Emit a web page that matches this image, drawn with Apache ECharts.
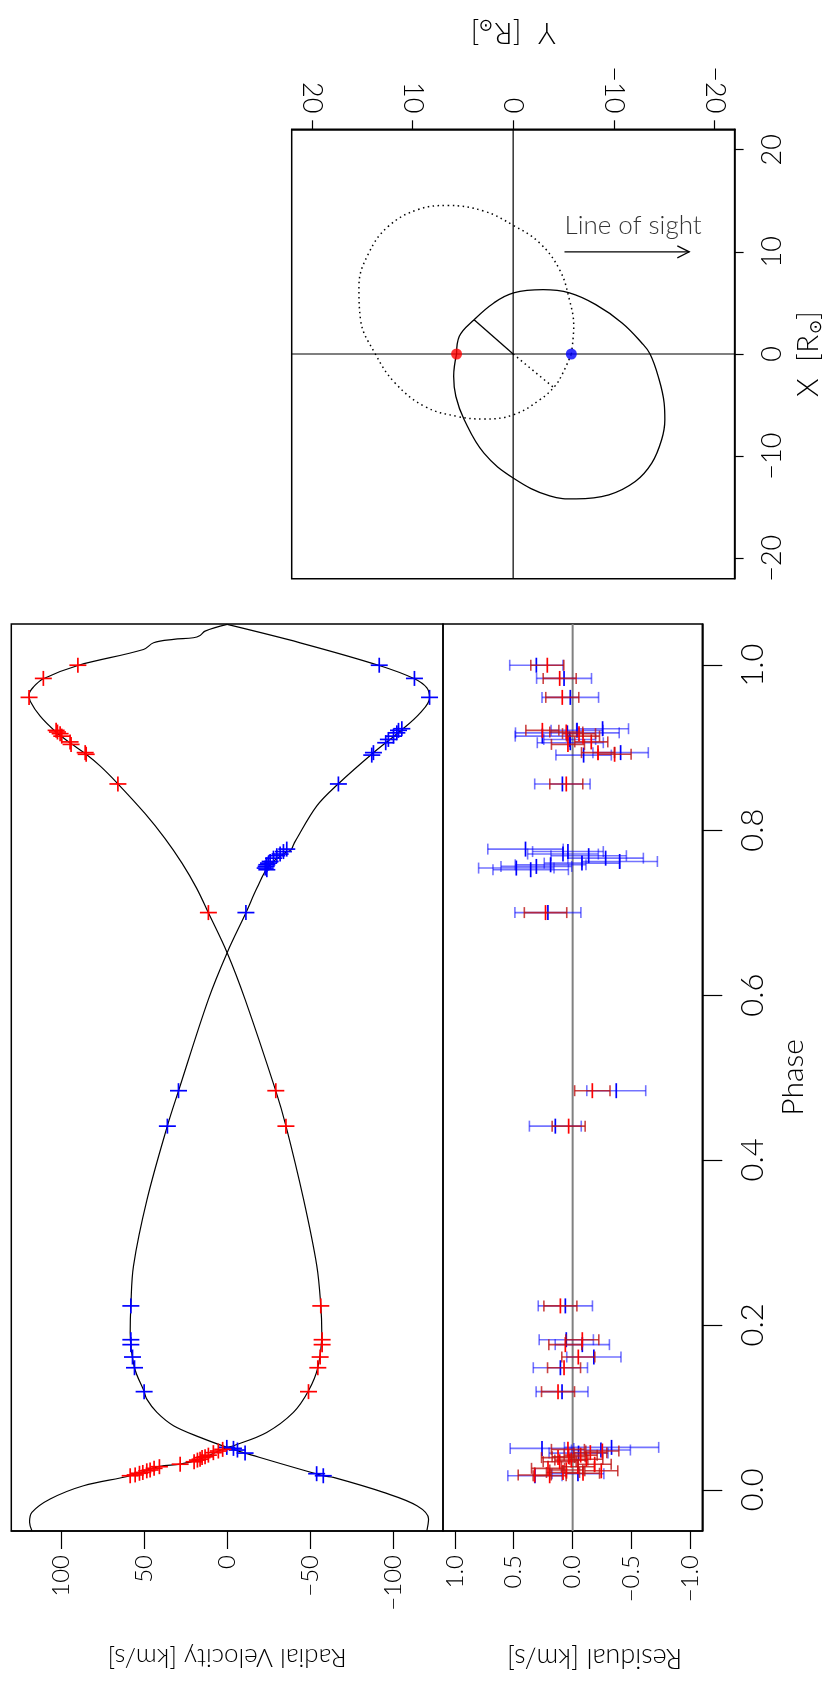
<!DOCTYPE html>
<html>
<head>
<meta charset="utf-8">
<script src="https://cdn.jsdelivr.net/npm/echarts@6/dist/echarts.min.js"></script>
<style>
  html, body { margin: 0; padding: 0; background: #ffffff; }
  #chart { width: 833px; height: 1686px; }
</style>
</head>
<body>
<div id="chart"></div>
<script>
// ---- tick values ----
const rvTickValues = [-100, -50, 0, 50, 100];
const residualTickValues = [-1.0, -0.5, 0.0, 0.5, 1.0];
const phaseTickValues = [0.0, 0.2, 0.4, 0.6, 0.8, 1.0];
const orbitTickValues = [-20, -10, 0, 10, 20];

// ---- primary star (red): observed phases, radial velocities [km/s], O-C residuals and errors ----
const primaryPhase = [0.017, 0.018, 0.020, 0.021, 0.023, 0.024, 0.026, 0.028, 0.031, 0.034, 0.036, 0.037, 0.039, 0.040, 0.042, 0.045, 0.047, 0.049,
  0.119, 0.148, 0.161, 0.176, 0.182, 0.223, 0.441, 0.484, 0.700, 0.856,
  0.892, 0.894, 0.904, 0.907, 0.914, 0.917, 0.919, 0.921, 0.961, 0.984, 1.000];
const primaryRV = [58.4, 55.4, 52.8, 50.8, 48.4, 46.4, 44.0, 40.8, 28.3, 19.9, 17.9, 16.3, 15.1, 13.3, 11.3, 8.3, 5.3, 2.7,
  -49.0, -54.6, -56.0, -57.2, -57.2, -56.4, -35.4, -29.3, 11.3, 65.8,
  84.9, 85.5, 94.0, 94.6, 99.6, 100.6, 102.2, 103.0, 119.3, 110.7, 89.9];
const primaryRes = [0.195, 0.322, -0.088, 0.082, -0.243, 0.054, 0.209, -0.045, -0.187, 0.110, 0.011, -0.116, 0.124, 0.034, -0.068, -0.150, -0.252, 0.040,
  0.124, 0.073, -0.048, 0.062, -0.082, 0.104, 0.034, -0.167, 0.230, 0.054,
  -0.356, -0.215, 0.040, -0.158, -0.088, -0.054, 0.054, 0.257, 0.088, 0.110, 0.215];
const primaryErr = [0.14, 0.14, 0.14, 0.14, 0.14, 0.14, 0.14, 0.14, 0.14, 0.14, 0.14, 0.14, 0.14, 0.14, 0.14, 0.14, 0.14, 0.14,
  0.14, 0.14, 0.14, 0.14, 0.14, 0.14, 0.14, 0.15, 0.18, 0.14,
  0.14, 0.14, 0.14, 0.14, 0.14, 0.14, 0.14, 0.14, 0.14, 0.14, 0.14];

// ---- secondary star (blue) ----
const secondaryPhase = [0.017, 0.0195, 0.0445, 0.0482, 0.0502, 0.0514,
  0.119, 0.148, 0.161, 0.176, 0.182, 0.223, 0.441, 0.484, 0.700,
  0.752, 0.754, 0.756, 0.758, 0.760, 0.762, 0.766, 0.769, 0.771, 0.774, 0.777,
  0.856, 0.891, 0.894, 0.906, 0.910, 0.914, 0.918, 0.921, 0.923, 0.961, 0.984, 1.000];
const secondaryRV = [-57.9, -53.9, -10.8, -6.2, -3.8, 0.2,
  50.0, 55.8, 57.0, 58.0, 58.0, 58.0, 36.0, 29.3, -11.3,
  -23.9, -22.9, -23.5, -23.9, -24.9, -25.9, -27.9, -29.9, -31.9, -33.9, -35.9,
  -67.0, -87.1, -88.1, -95.5, -97.1, -100.2, -102.2, -103.2, -105.2, -121.9, -112.8, -91.6];
const secondaryRes = [0.320, -0.045, -0.050, -0.240, 0.260, -0.330,
  0.090, 0.104, -0.180, -0.082, 0.054, 0.062, 0.147, -0.370, 0.210,
  0.356, 0.478, 0.308, 0.187, -0.079, -0.399, -0.280, -0.136, 0.082, 0.040, 0.400,
  0.087, -0.093, -0.407, 0.020, 0.025, 0.257, 0.045, -0.037, -0.254, 0.020, 0.073, 0.308];
const secondaryErr = [0.23, 0.22, 0.25, 0.25, 0.27, 0.40,
  0.22, 0.23, 0.23, 0.23, 0.23, 0.23, 0.22, 0.25, 0.28,
  0.32, 0.32, 0.30, 0.30, 0.32, 0.32, 0.32, 0.32, 0.30, 0.30, 0.32,
  0.235, 0.235, 0.235, 0.28, 0.22, 0.23, 0.44, 0.22, 0.22, 0.24, 0.233, 0.226];

// ---- fitted radial-velocity curves ----
const primaryModelPhase = [-0.0496, -0.0395, -0.0274, -0.0112, 0.0049, 0.017, 0.0283, 0.0312, 0.0372, 0.0514, 0.0534, 0.0695, 0.0938, 0.120,
  0.148, 0.1908, 0.2231, 0.2716, 0.3524, 0.4413, 0.4837, 0.5948, 0.6514, 0.6998, 0.730, 0.760, 0.790, 0.820, 0.8562, 0.8776, 0.8929, 0.9059, 0.920,
  0.9382, 0.9564, 0.9644, 0.9737, 0.9836, 0.9997, 1.0191, 1.0272, 1.0313, 1.0333, 1.0361, 1.0414, 1.0495];
const primaryModelRV = [117.6, 119.0, 117.6, 106.6, 86.5, 58.4, 40.8, 28.3, 16.3, 0.0, -3.8, -23.8, -39.9, -49.0,
  -54.6, -57.0, -56.4, -54.0, -46.0, -35.4, -29.3, -10.8, 0.0, 11.3, 18.5, 27.2, 37.5, 49.4, 65.8, 76.4, 85.5, 94.6, 103.6,
  112.6, 118.6, 119.3, 116.6, 110.7, 89.9, 50.4, 44.3, 32.3, 20.3, 16.3, 13.3, 0.0];
const secondaryModelPhase = [-0.0496, -0.0355, -0.0194, -0.0032, 0.015, 0.017, 0.0445, 0.0514, 0.0636, 0.0777, 0.0938, 0.1099, 0.1193,
  0.148, 0.1908, 0.2231, 0.2716, 0.3524, 0.4413, 0.4837, 0.5948, 0.6514, 0.6998, 0.7300, 0.7564, 0.7726, 0.7760, 0.7821, 0.7861,
  0.8291, 0.8562, 0.8938, 0.920, 0.9423, 0.9604, 0.9725, 0.9836, 0.9997, 1.0272, 1.0495];
const secondaryModelRV = [-120.3, -121.3, -114.3, -94.2, -64.0, -57.9, -10.8, 0.0, 16.3, 32.3, 42.3, 48.4, 50.0,
  55.8, 58.4, 58.0, 56.4, 48.2, 36.0, 29.3, 11.3, 0.0, -11.3, -18.0, -25.0, -35.0, -38.5, -39.9, -40.9,
  -53.9, -67.0, -88.1, -104.2, -116.3, -121.9, -120.3, -112.8, -91.6, -44.0, 0.0];

// ---- relative orbits in the sky frame [R_sun]: Y (horizontal) and X (vertical) ----
const primaryOrbitY = [5.62, 5.35, 3.88, 1.92, -0.04, -2.98, -5.59, -8.21, -10.82, -12.78, -13.60, -14.41, -15.00, -15.07, -14.75,
  -13.77, -12.13, -9.51, -6.25, -3.63, -0.04, 2.90, 4.86, 5.69, 5.91, 5.62];
const primaryOrbitX = [0.00, 1.73, 3.36, 5.00, 5.98, 6.30, 5.98, 4.83, 3.04, 1.08, 0.00, -2.19, -4.80, -6.44, -8.40,
  -10.69, -12.49, -13.79, -14.19, -13.89, -12.16, -9.71, -6.44, -4.16, -2.19, 0.00];
const secondaryOrbitY = [-5.78, -6.02, -5.59, -4.61, -2.60, -0.04, 2.90, 6.50, 9.44, 12.38, 14.34, 15.32, 15.16, 13.69, 11.73,
  8.78, 5.52, 2.90, -0.04, -2.65, -4.12, -4.94, -5.78];
const secondaryOrbitX = [0.00, 2.71, 5.32, 8.26, 10.90, 12.58, 13.99, 14.54, 14.15, 12.52, 9.90, 6.63, 3.36, 0.00, -2.84,
  -5.14, -6.12, -6.37, -5.95, -4.48, -3.18, -1.86, 0.00];
const primaryPeriastron = [3.88, 3.36];
const secondaryPeriastron = [-4.12, -3.36];
const primaryPosition = [5.62, 0];
const secondaryPosition = [-5.78, 0];
const sightLine = [-5.1, -17.5, 10];      // Y start, Y end, X of the arrow
const sightLabel = ['Line of sight', -5.1, 12.6];

// ---- styling helpers ----
const FONT = 'Lato';
const RED = '#ff0000';
const BLUE = '#0000ff';
const minusSign = v => String(v).replace('-', '\u2212');

function plusItem(color) {
  return function (params, api) {
    const p = api.coord([api.value(0), api.value(1)]);
    return {
      type: 'group',
      children: [
        { type: 'line', shape: { x1: p[0] - 8.5, y1: p[1], x2: p[0] + 8.5, y2: p[1] }, style: { stroke: color, lineWidth: 1.7 } },
        { type: 'line', shape: { x1: p[0], y1: p[1] - 7.5, x2: p[0], y2: p[1] + 7.5 }, style: { stroke: color, lineWidth: 1.7 } }
      ]
    };
  };
}

function errorItem(barColor, tickColor) {
  return function (params, api) {
    const r = api.value(0), ph = api.value(1), e = api.value(2);
    const c = api.coord([r, ph]);
    const lo = api.coord([r - e, ph]);
    const hi = api.coord([r + e, ph]);
    return {
      type: 'group',
      children: [
        { type: 'line', shape: { x1: lo[0], y1: c[1], x2: hi[0], y2: c[1] }, style: { stroke: barColor, lineWidth: 1.6 } },
        { type: 'line', shape: { x1: lo[0], y1: c[1] - 5.5, x2: lo[0], y2: c[1] + 5.5 }, style: { stroke: barColor, lineWidth: 1.6 } },
        { type: 'line', shape: { x1: hi[0], y1: c[1] - 5.5, x2: hi[0], y2: c[1] + 5.5 }, style: { stroke: barColor, lineWidth: 1.6 } },
        { type: 'line', shape: { x1: c[0], y1: c[1] - 7.5, x2: c[0], y2: c[1] + 7.5 }, style: { stroke: tickColor, lineWidth: 1.7 } }
      ]
    };
  };
}

function arrowItem(params, api) {
  const a = api.coord([api.value(0), api.value(2)]);
  const b = api.coord([api.value(1), api.value(2)]);
  return {
    type: 'group',
    children: [
      { type: 'line', shape: { x1: a[0], y1: a[1], x2: b[0], y2: b[1] }, style: { stroke: '#000', lineWidth: 1.2 } },
      { type: 'polyline', shape: { points: [[b[0] - 12, b[1] - 6], [b[0], b[1]], [b[0] - 12, b[1] + 6]] }, style: { stroke: '#000', fill: null, lineWidth: 1.2 } }
    ]
  };
}

const axisLineStyle = { color: '#000', width: 1.5 };
const tickLabelStyle = { color: '#000', fontFamily: FONT, fontWeight: 300, fontSize: 24 };
const nameStyle = { color: '#000', fontFamily: FONT, fontWeight: 300, fontSize: 26 };
const sunNameStyle = { color: '#000', fontFamily: FONT, fontWeight: 300, fontSize: 30,
  rich: { sun: { fontFamily: 'DejaVu Sans', fontSize: 17, verticalAlign: 'bottom', padding: [16, 0, 0, 1] } } };

const zip = (a, b) => a.map((v, i) => [v, b[i]]);

const chart = echarts.init(document.getElementById('chart'), null, { renderer: 'canvas' });

chart.setOption({
  animation: false,
  backgroundColor: '#ffffff',
  textStyle: { fontFamily: FONT },
  grid: [
    { left: 11.3, top: 624, width: 431.7, height: 907, show: true, borderColor: '#000', borderWidth: 1.5, containLabel: false },
    { left: 443, top: 624, width: 259.3, height: 907, show: true, borderColor: '#000', borderWidth: 1.5, containLabel: false },
    { left: 291.7, top: 129.3, width: 449.6, height: 449.4, show: true, borderColor: '#000', borderWidth: 1.5, containLabel: false }
  ],
  xAxis: [
    {
      gridIndex: 0, type: 'value', min: -130, max: 130, inverse: true, position: 'bottom',
      axisLine: { show: true, onZero: false, lineStyle: axisLineStyle },
      axisTick: { show: true, inside: false, length: 18, customValues: rvTickValues, lineStyle: { color: '#000', width: 1.2 } },
      axisLabel: { show: true, rotate: 90, margin: 24, customValues: rvTickValues, formatter: v => minusSign(v), ...tickLabelStyle },
      splitLine: { show: false },
      name: 'Radial Velocity [km/s]', nameLocation: 'middle', nameRotate: 180, nameGap: 113, nameTextStyle: nameStyle
    },
    {
      gridIndex: 1, type: 'value', min: -1.1, max: 1.1, inverse: true, position: 'bottom',
      axisLine: { show: true, onZero: false, lineStyle: axisLineStyle },
      axisTick: { show: true, inside: false, length: 18, customValues: residualTickValues, lineStyle: { color: '#000', width: 1.2 } },
      axisLabel: { show: true, rotate: 90, margin: 24, customValues: residualTickValues, formatter: v => minusSign(Number(v).toFixed(1)), ...tickLabelStyle },
      splitLine: { show: false },
      name: 'Residual [km/s]', nameLocation: 'middle', nameRotate: 180, nameGap: 113,
      nameTextStyle: { ...nameStyle, fontSize: 27, padding: [0, 44, 0, 0] }
    },
    {
      gridIndex: 2, type: 'value', min: -22, max: 22, inverse: true, position: 'top',
      axisLine: { show: true, onZero: false, lineStyle: axisLineStyle },
      axisTick: { show: true, inside: false, length: 9, customValues: orbitTickValues, lineStyle: { color: '#000', width: 1.2 } },
      axisLabel: { show: true, rotate: 90, margin: 16, customValues: orbitTickValues, formatter: v => minusSign(v), ...tickLabelStyle, fontSize: 27 },
      splitLine: { show: false },
      name: 'Y  [R{sun|\u2299}]', nameLocation: 'middle', nameRotate: 180, nameGap: 80, nameTextStyle: sunNameStyle
    }
  ],
  yAxis: [
    {
      gridIndex: 0, type: 'value', min: -0.05, max: 1.05,
      axisLine: { show: false, onZero: false }, axisTick: { show: false }, axisLabel: { show: false }, splitLine: { show: false }
    },
    {
      gridIndex: 1, type: 'value', min: -0.05, max: 1.05, position: 'right',
      axisLine: { show: true, onZero: false, lineStyle: axisLineStyle },
      axisTick: { show: true, inside: false, length: 20, customValues: phaseTickValues, lineStyle: { color: '#000', width: 1.2 } },
      axisLabel: { show: true, rotate: 90, margin: 35, customValues: phaseTickValues, formatter: v => Number(v).toFixed(1), ...tickLabelStyle, fontSize: 31 },
      splitLine: { show: false },
      name: 'Phase', nameLocation: 'middle', nameRotate: 90, nameGap: 76, nameTextStyle: { ...nameStyle, fontSize: 30 }
    },
    {
      gridIndex: 2, type: 'value', min: -22, max: 22, position: 'right',
      axisLine: { show: true, onZero: false, lineStyle: axisLineStyle },
      axisTick: { show: true, inside: false, length: 9, customValues: orbitTickValues, lineStyle: { color: '#000', width: 1.2 } },
      axisLabel: { show: true, rotate: 90, margin: 24, customValues: orbitTickValues, formatter: v => minusSign(v), ...tickLabelStyle, fontSize: 27 },
      splitLine: { show: false },
      name: 'X  [R{sun|\u2299}]', nameLocation: 'middle', nameRotate: 90, nameGap: 34, nameTextStyle: sunNameStyle
    }
  ],
  series: [
    // radial-velocity panel
    { type: 'line', xAxisIndex: 0, yAxisIndex: 0, data: zip(primaryModelRV, primaryModelPhase), smooth: 0.35, symbol: 'none',
      lineStyle: { color: '#000', width: 1.2 }, z: 2 },
    { type: 'line', xAxisIndex: 0, yAxisIndex: 0, data: zip(secondaryModelRV, secondaryModelPhase), smooth: 0.35, symbol: 'none',
      lineStyle: { color: '#000', width: 1.2 }, z: 2 },
    { type: 'custom', xAxisIndex: 0, yAxisIndex: 0, renderItem: plusItem(BLUE), encode: { x: 0, y: 1 },
      data: zip(secondaryRV, secondaryPhase), z: 3 },
    { type: 'custom', xAxisIndex: 0, yAxisIndex: 0, renderItem: plusItem(RED), encode: { x: 0, y: 1 },
      data: zip(primaryRV, primaryPhase), z: 3 },

    // residual panel
    { type: 'line', xAxisIndex: 1, yAxisIndex: 1, data: [[0, -0.05], [0, 1.05]], symbol: 'none',
      lineStyle: { color: '#808080', width: 2 }, z: 1 },
    { type: 'custom', xAxisIndex: 1, yAxisIndex: 1, renderItem: errorItem('rgba(0,0,255,0.55)', BLUE), encode: { x: 0, y: 1 },
      dimensions: ['res', 'phase', 'err'],
      data: secondaryRes.map((r, i) => [r, secondaryPhase[i], secondaryErr[i]]), z: 3 },
    { type: 'custom', xAxisIndex: 1, yAxisIndex: 1, renderItem: errorItem('rgba(190,20,20,0.8)', RED), encode: { x: 0, y: 1 },
      dimensions: ['res', 'phase', 'err'],
      data: primaryRes.map((r, i) => [r, primaryPhase[i], primaryErr[i]]), z: 4 },

    // orbit panel
    { type: 'line', xAxisIndex: 2, yAxisIndex: 2, data: [[0, -22], [0, 22]], symbol: 'none',
      lineStyle: { color: '#000', width: 1.2 }, z: 1 },
    { type: 'line', xAxisIndex: 2, yAxisIndex: 2, data: [[22, 0], [-22, 0]], symbol: 'none',
      lineStyle: { color: '#000', width: 1.2 }, z: 1 },
    { type: 'line', xAxisIndex: 2, yAxisIndex: 2, data: zip(primaryOrbitY, primaryOrbitX), smooth: 0.4, symbol: 'none',
      lineStyle: { color: '#000', width: 1.3 }, z: 2 },
    { type: 'line', xAxisIndex: 2, yAxisIndex: 2, data: zip(secondaryOrbitY, secondaryOrbitX), smooth: 0.4, symbol: 'none',
      lineStyle: { color: '#000', width: 1.5, type: [1.5, 3.5] }, z: 2 },
    { type: 'line', xAxisIndex: 2, yAxisIndex: 2, data: [[0, 0], primaryPeriastron], symbol: 'none',
      lineStyle: { color: '#000', width: 1.3 }, z: 2 },
    { type: 'line', xAxisIndex: 2, yAxisIndex: 2, data: [[0, 0], secondaryPeriastron], symbol: 'none',
      lineStyle: { color: '#000', width: 1.5, type: [1.5, 3.5] }, z: 2 },
    { type: 'scatter', xAxisIndex: 2, yAxisIndex: 2, data: [primaryPosition], symbol: 'circle', symbolSize: 11,
      itemStyle: { color: RED }, z: 4 },
    { type: 'scatter', xAxisIndex: 2, yAxisIndex: 2, data: [secondaryPosition], symbol: 'circle', symbolSize: 11,
      itemStyle: { color: BLUE }, z: 4 },
    { type: 'custom', xAxisIndex: 2, yAxisIndex: 2, renderItem: arrowItem, encode: { x: [0, 1], y: 2 },
      data: [sightLine], z: 3 },
    { type: 'scatter', xAxisIndex: 2, yAxisIndex: 2, data: [[sightLabel[1], sightLabel[2]]], symbolSize: 0,
      label: { show: true, position: 'right', distance: 0, formatter: sightLabel[0], color: '#000',
        fontFamily: FONT, fontWeight: 300, fontSize: 26 }, z: 3 }
  ]
});
</script>
</body>
</html>
